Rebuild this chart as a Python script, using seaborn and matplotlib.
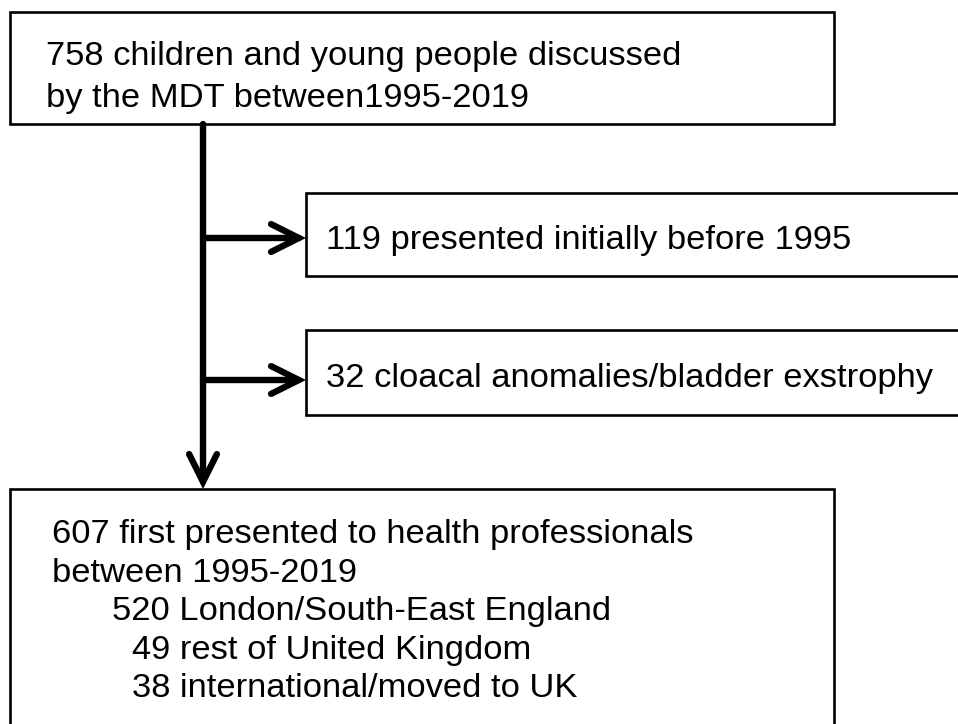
import matplotlib
matplotlib.use("Agg")
import matplotlib.pyplot as plt
from matplotlib.patches import Rectangle
import seaborn as sns

# Flow numbers
n_discussed = 758
excluded_counts = [119, 32]
excluded_labels = ["presented initially before 1995", "cloacal anomalies/bladder exstrophy"]
n_included = 607
region_counts = [520, 49, 38]
region_labels = ["London/South-East England", "rest of United Kingdom", "international/moved to UK"]

top_lines = [f"{n_discussed} children and young people discussed",
             "by the MDT between1995-2019"]
bottom_lines = [f"{n_included} first presented to health professionals",
                "between 1995-2019"]
region_lines = [f"{c} {lab}" for c, lab in zip(region_counts, region_labels)]
excluded_lines = [f"{c} {lab}" for c, lab in zip(excluded_counts, excluded_labels)]

sns.set_style("white")
plt.rcParams['font.family'] = ['Liberation Sans', 'DejaVu Sans']
plt.rcParams['text.color'] = 'black'

W, H = 958, 724
fig = plt.figure(figsize=(W / 100, H / 100), dpi=100)
ax = fig.add_axes([0, 0, 1, 1])
ax.set_xlim(0, W)
ax.set_ylim(H, 0)
ax.axis('off')

FS = 24.8
box_kw = dict(facecolor='white', edgecolor='black', lw=1.9)

# layout (pixel space)
top_box = (10, 12, 824, 112)
excl_boxes = [(306, 193, 700, 83), (306, 330, 700, 85)]
bottom_box = (10, 489, 824, 260)
trunk_x = 203

for (x, y, w, h) in [top_box] + excl_boxes + [bottom_box]:
    ax.add_patch(Rectangle((x, y), w, h, **box_kw))

# top box text
for i, line in enumerate(top_lines):
    ax.text(46, 65 + i * 42, line, fontsize=FS, va='baseline', ha='left', color='black')

# exclusion boxes text
for (x, y, w, h), line in zip(excl_boxes, excluded_lines):
    ax.text(x + 20, y + h / 2 + 14, line, fontsize=FS, va='baseline', ha='left', color='black')

# bottom box text
bx = [52, 52, 112, 132, 132]
for i, line in enumerate(bottom_lines + region_lines):
    ax.text(bx[i], 543 + i * 38.5, line, fontsize=FS, va='baseline', ha='left', color='black')

arrow = dict(arrowstyle='->,head_length=2.0,head_width=1.0', mutation_scale=10,
             lw=4.6, color='black', shrinkA=0, shrinkB=0, capstyle='round',
             joinstyle='miter')

# vertical trunk
ax.annotate("", xy=(trunk_x, bottom_box[1]), xytext=(trunk_x, top_box[1] + top_box[3]),
            arrowprops=arrow)
# side arrows
arrow_y = [238, 380]
for (x, y, w, h), ay in zip(excl_boxes, arrow_y):
    ax.annotate("", xy=(x, ay), xytext=(trunk_x, ay), arrowprops=arrow)

fig.savefig("out.png", dpi=100, facecolor='white')
